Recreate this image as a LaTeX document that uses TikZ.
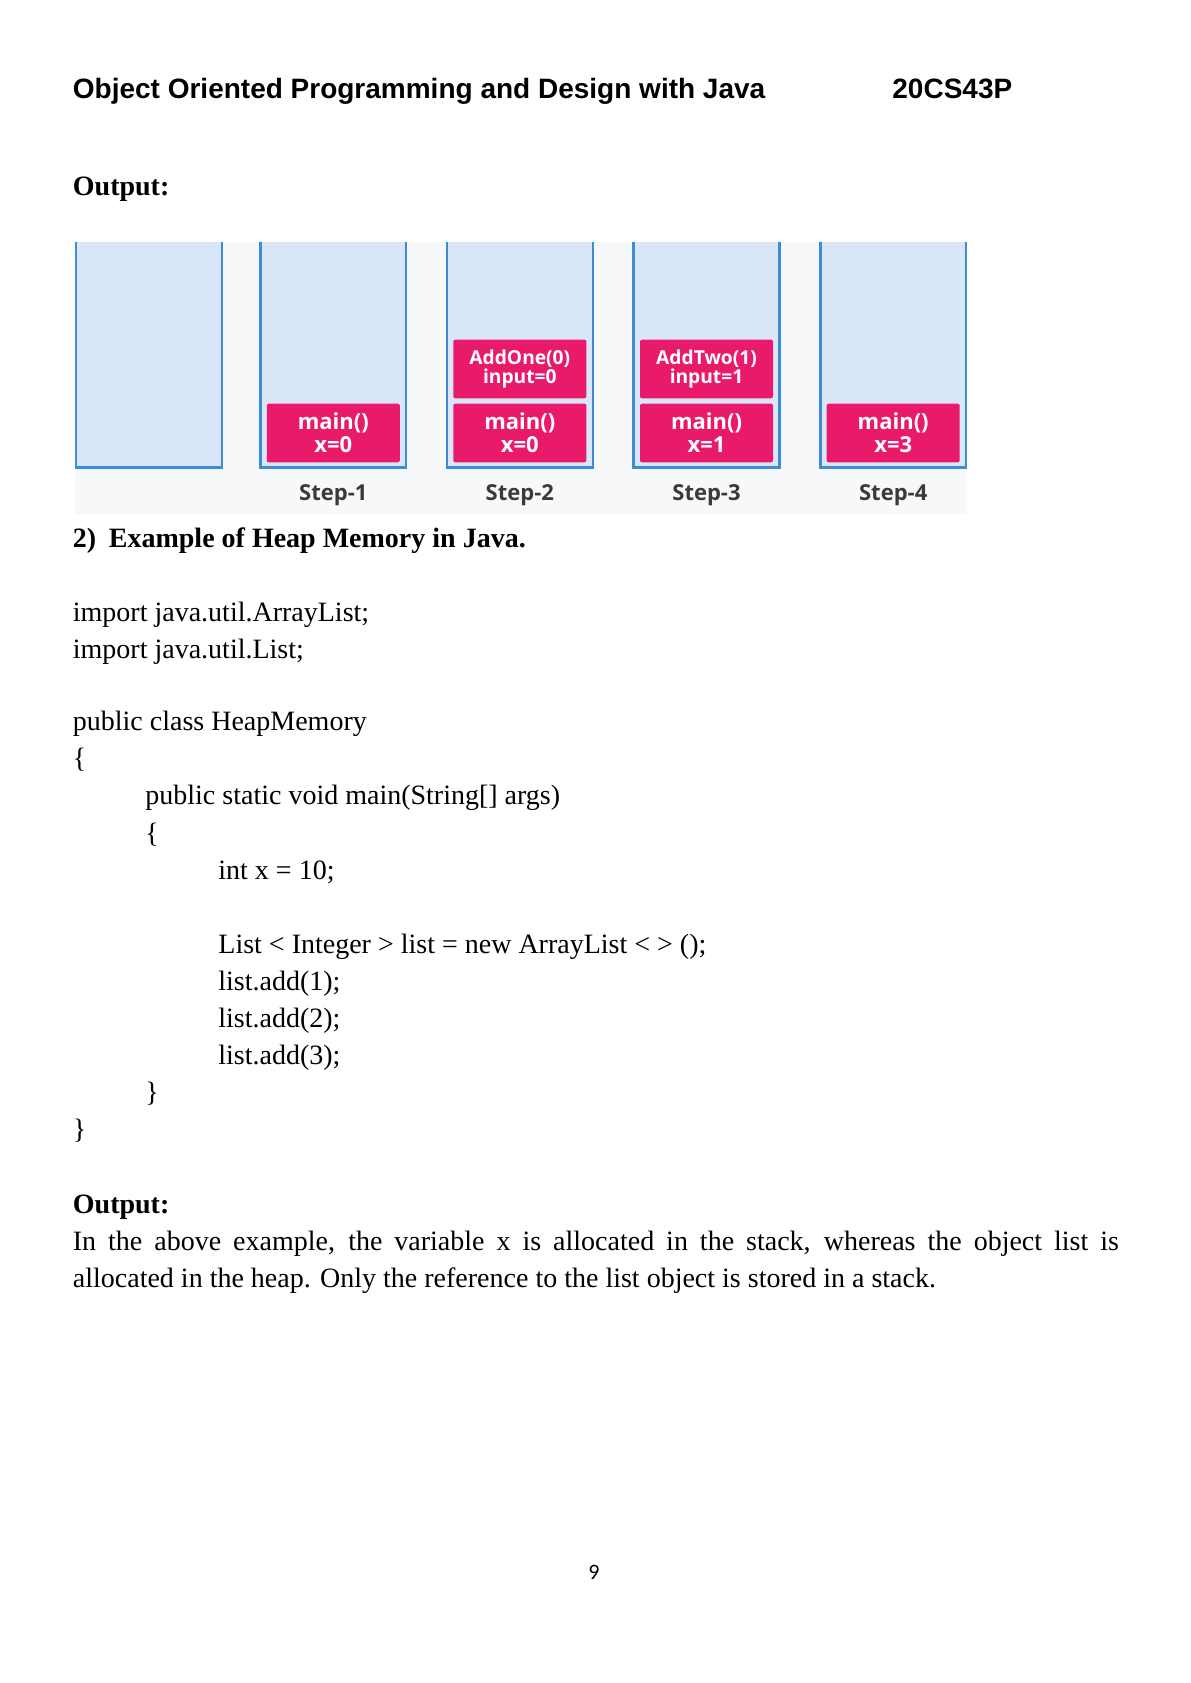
\documentclass[tikz,border=0pt]{standalone}
\usepackage{fontspec}
\setmainfont{Liberation Serif}
\newfontfamily\hdrfont{Liberation Sans}
\newfontfamily\diagfont{Open Sans}
\newfontfamily\pgnofont{Carlito}
\definecolor{colfill}{HTML}{D8E6F7}
\definecolor{colline}{HTML}{3C8DD6}
\definecolor{framepink}{HTML}{EA1A6B}
\definecolor{panelgray}{HTML}{F6F8FA}
\definecolor{steptext}{HTML}{3A3A3A}

\begin{document}
\begin{tikzpicture}[x=0.5pt,y=-0.5pt,
  panel/.style={rectangle,fill=panelgray,inner sep=0pt,minimum width=446pt,minimum height=136pt},
  stackcol/.style={rectangle,fill=colfill,inner sep=0pt,minimum width=72.5pt,minimum height=112.5pt},
  framebox/.style={rectangle,rounded corners=1pt,fill=framepink,text=white,inner sep=0pt,
    minimum width=66.5pt,minimum height=29.3pt,align=center,font=\diagfont\bfseries\fontsize{11}{11.5}\selectfont},
  callbox/.style={framebox,font=\diagfont\bfseries\fontsize{9.6}{9.8}\selectfont},
  steplabel/.style={text=steptext,inner sep=0pt,font=\diagfont\bfseries\fontsize{11}{12}\selectfont},
  bodyline/.style={anchor=base west,inner sep=0pt,font=\fontsize{14}{18.5}\selectfont},
  boldline/.style={bodyline,font=\bfseries\fontsize{14}{18.5}\selectfont},
  hdr/.style={bodyline,font=\hdrfont\bfseries\fontsize{14}{16}\selectfont}]

\useasboundingbox[fill=white] (0,0) rectangle (1190,1683);

\path
(72.5,98.5) node[hdr] (title) {Object Oriented Programming and Design with Java}
(892,98.5) node[hdr] (code) {20CS43P}
(72.5,195.5) node[boldline] (out1) {Output:}

% stack picture
(521,378) node[panel] (panel) {}
(149,354.5) node[stackcol] (col1) {}
(333.3,354.5) node[stackcol] (col2) {}
(519.8,354.5) node[stackcol] (col3) {}
(706.5,354.5) node[stackcol] (col4) {}
(893.2,354.5) node[stackcol] (col5) {}

(333.3,433) node[framebox] (main1) {main()\\x=0}
(519.8,433) node[framebox] (main2) {main()\\x=0}
(519.8,369) node[callbox] (addone) {AddOne(0)\\input=0}
(706.5,433) node[framebox] (main3) {main()\\x=1}
(706.5,369) node[callbox] (addtwo) {AddTwo(1)\\input=1}
(893.2,433) node[framebox] (main4) {main()\\x=3}

(333.3,495) node[steplabel] (step1) {Step-1}
(519.8,495) node[steplabel] (step2) {Step-2}
(706.5,495) node[steplabel] (step3) {Step-3}
(893.2,495) node[steplabel] (step4) {Step-4}

% heap example
(72.5,547) node[boldline] (num) {2)}
(108.5,547) node[boldline] (heading) {Example of Heap Memory in Java.}
(72.5,621) node[bodyline] (imp1) {import java.util.ArrayList;}
(72.5,658) node[bodyline] (imp2) {import java.util.List;}
(72.5,730) node[bodyline] (cls) {public class HeapMemory}
(72.5,767) node[bodyline] (open1) {\{}
(145,804.5) node[bodyline] (mth) {public static void main(String[] args)}
(145,842) node[bodyline] (open2) {\{}
(218,879.5) node[bodyline] (intx) {int x = 10;}
(218,953.5) node[bodyline] (lst) {List < Integer > list = new ArrayList < > ();}
(218,990.5) node[bodyline] (add1) {list.add(1);}
(218,1027.5) node[bodyline] (add2) {list.add(2);}
(218,1064.5) node[bodyline] (add3) {list.add(3);}
(145,1101.5) node[bodyline] (close2) {\}}
(72.5,1138.5) node[bodyline] (close1) {\}}

(72.5,1213) node[boldline] (out2) {Output:}
(72.5,1250) node[bodyline] (para1) {\makebox[523pt][s]{In the above example, the variable x is allocated in the stack, whereas the object list is}}
(72.5,1287) node[bodyline] (para2) {allocated in the heap. Only the reference to the list object is stored in a stack.}

(594,1579) node[anchor=base,inner sep=0pt,font=\pgnofont\fontsize{11}{12}\selectfont] (pgno) {9}
;

\draw[colline,line width=1.2pt] (col1.north west) -- (col1.south west) -- (col1.south east) -- (col1.north east);
\draw[colline,line width=1.2pt] (col2.north west) -- (col2.south west) -- (col2.south east) -- (col2.north east);
\draw[colline,line width=1.2pt] (col3.north west) -- (col3.south west) -- (col3.south east) -- (col3.north east);
\draw[colline,line width=1.2pt] (col4.north west) -- (col4.south west) -- (col4.south east) -- (col4.north east);
\draw[colline,line width=1.2pt] (col5.north west) -- (col5.south west) -- (col5.south east) -- (col5.north east);
\end{tikzpicture}
\end{document}
